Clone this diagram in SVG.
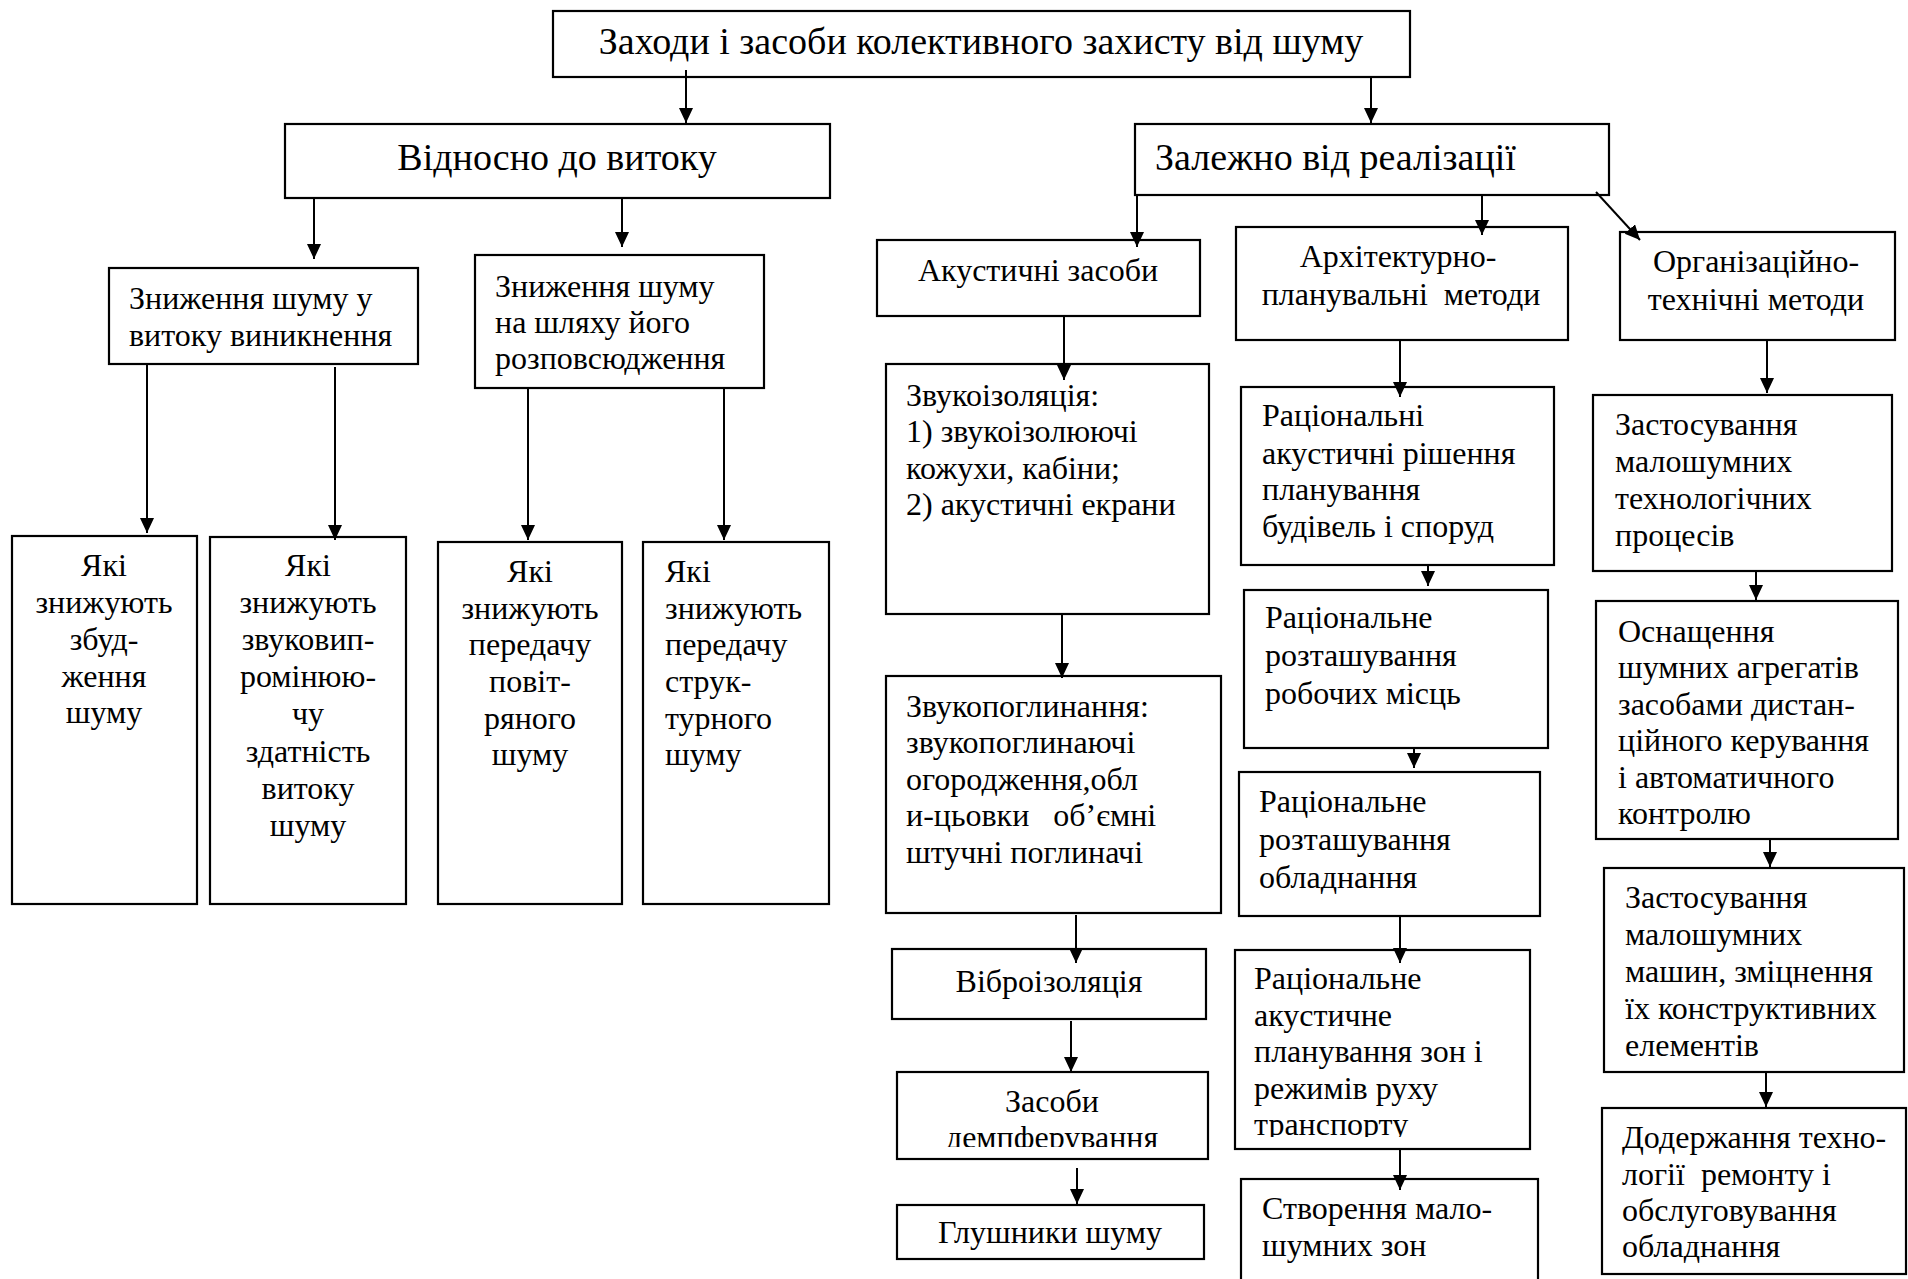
<svg xmlns="http://www.w3.org/2000/svg" width="1908" height="1279" viewBox="0 0 1908 1279">
<style>
.box{fill:#fff;stroke:#000;stroke-width:2.2}
.t{font-family:"Liberation Serif","Times New Roman",serif;font-size:32px;fill:#000;white-space:pre}
.big{font-size:38px}
.c{text-anchor:middle}
.conn line{stroke:#000;stroke-width:2;marker-end:url(#ah)}
</style>
<defs>
<marker id="ah" markerUnits="userSpaceOnUse" markerWidth="16" markerHeight="16" refX="15" refY="7" orient="auto">
<path d="M0,0 L15,7 L0,14 z" fill="#000"/>
</marker>
<clipPath id="clipDemp"><rect x="897" y="1072" width="311" height="75"/></clipPath>
<clipPath id="clipTrans"><rect x="1235" y="950" width="295" height="187"/></clipPath>
</defs>
<rect width="1908" height="1279" fill="#fff"/>

<g id="n-top"><rect class="box" x="553" y="11" width="857" height="66"/>
<text class="t big c" x="981" y="54">Заходи і засоби колективного захисту від шуму</text></g>

<g id="n-vidnosno"><rect class="box" x="285" y="124" width="545" height="74"/>
<text class="t big c" x="557" y="170">Відносно до витоку</text></g>

<g id="n-zalezhno"><rect class="box" x="1135" y="124" width="474" height="71"/>
<text class="t big" x="1155" y="170">Залежно від реалізації</text></g>

<g id="n-znyzh1"><rect class="box" x="109" y="268" width="309" height="96"/>
<text class="t"><tspan x="129" y="309">Зниження шуму у</tspan><tspan x="129" y="346">витоку виникнення</tspan></text></g>

<g id="n-znyzh2"><rect class="box" x="475" y="255" width="289" height="133"/>
<text class="t"><tspan x="495" y="297">Зниження шуму</tspan><tspan x="495" y="333">на шляху його</tspan><tspan x="495" y="369">розповсюдження</tspan></text></g>

<g id="n-a"><rect class="box" x="12" y="536" width="185" height="368"/>
<text class="t c"><tspan x="104" y="576">Які</tspan><tspan x="104" y="613">знижують</tspan><tspan x="104" y="650">збуд-</tspan><tspan x="104" y="687">ження</tspan><tspan x="104" y="723">шуму</tspan></text></g>

<g id="n-b"><rect class="box" x="210" y="537" width="196" height="367"/>
<text class="t c"><tspan x="308" y="576">Які</tspan><tspan x="308" y="613">знижують</tspan><tspan x="308" y="650">звуковип-</tspan><tspan x="308" y="687">ромінюю-</tspan><tspan x="308" y="724">чу</tspan><tspan x="308" y="762">здатність</tspan><tspan x="308" y="799">витоку</tspan><tspan x="308" y="836">шуму</tspan></text></g>

<g id="n-c"><rect class="box" x="438" y="542" width="184" height="362"/>
<text class="t c"><tspan x="530" y="582">Які</tspan><tspan x="530" y="619">знижують</tspan><tspan x="530" y="655">передачу</tspan><tspan x="530" y="692">повіт-</tspan><tspan x="530" y="729">ряного</tspan><tspan x="530" y="765">шуму</tspan></text></g>

<g id="n-d"><rect class="box" x="643" y="542" width="186" height="362"/>
<text class="t"><tspan x="665" y="582">Які</tspan><tspan x="665" y="619">знижують</tspan><tspan x="665" y="655">передачу</tspan><tspan x="665" y="692">струк-</tspan><tspan x="665" y="729">турного</tspan><tspan x="665" y="765">шуму</tspan></text></g>

<g id="n-akust"><rect class="box" x="877" y="240" width="323" height="76"/>
<text class="t c" x="1038" y="281">Акустичні засоби</text></g>

<g id="n-arkh"><rect class="box" x="1236" y="227" width="332" height="113"/>
<text class="t c"><tspan x="1398" y="267">Архітектурно-</tspan><tspan x="1401" y="305">планувальні  методи</tspan></text></g>

<g id="n-org"><rect class="box" x="1620" y="232" width="275" height="108"/>
<text class="t c"><tspan x="1756" y="272">Організаційно-</tspan><tspan x="1756" y="310">технічні методи</tspan></text></g>

<g id="n-zvukoizol"><rect class="box" x="886" y="364" width="323" height="250"/>
<text class="t"><tspan x="906" y="406">Звукоізоляція:</tspan><tspan x="906" y="442">1) звукоізолюючі</tspan><tspan x="906" y="479">кожухи, кабіни;</tspan><tspan x="906" y="515">2) акустичні екрани</tspan></text></g>

<g id="n-zvukopogl"><rect class="box" x="886" y="676" width="335" height="237"/>
<text class="t"><tspan x="906" y="717">Звукопоглинання:</tspan><tspan x="906" y="753">звукопоглинаючі</tspan><tspan x="906" y="790">огородження,обл</tspan><tspan x="906" y="826">и-цьовки   об’ємні</tspan><tspan x="906" y="863">штучні поглиначі</tspan></text></g>

<g id="n-vibro"><rect class="box" x="892" y="949" width="314" height="70"/>
<text class="t c" x="1049" y="992">Віброізоляція</text></g>

<g id="n-zasoby"><rect class="box" x="897" y="1072" width="311" height="87"/>
<text class="t c" x="1052" y="1112">Засоби</text>
<text class="t c" x="1052" y="1148" clip-path="url(#clipDemp)">демпферування</text></g>

<g id="n-glush"><rect class="box" x="897" y="1205" width="307" height="54"/>
<text class="t c" x="1050" y="1243">Глушники шуму</text></g>

<g id="n-rac1"><rect class="box" x="1241" y="387" width="313" height="178"/>
<text class="t"><tspan x="1262" y="426">Раціональні</tspan><tspan x="1262" y="464">акустичні рішення</tspan><tspan x="1262" y="500">планування</tspan><tspan x="1262" y="537">будівель і споруд</tspan></text></g>

<g id="n-rac2"><rect class="box" x="1244" y="590" width="304" height="158"/>
<text class="t"><tspan x="1265" y="628">Раціональне</tspan><tspan x="1265" y="666">розташування</tspan><tspan x="1265" y="704">робочих місць</tspan></text></g>

<g id="n-rac3"><rect class="box" x="1239" y="772" width="301" height="144"/>
<text class="t"><tspan x="1259" y="812">Раціональне</tspan><tspan x="1259" y="850">розташування</tspan><tspan x="1259" y="888">обладнання</tspan></text></g>

<g id="n-rac4"><rect class="box" x="1235" y="950" width="295" height="199"/>
<text class="t" clip-path="url(#clipTrans)"><tspan x="1254" y="989">Раціональне</tspan><tspan x="1254" y="1026">акустичне</tspan><tspan x="1254" y="1062">планування зон і</tspan><tspan x="1254" y="1099">режимів руху</tspan><tspan x="1254" y="1135">транспорту</tspan></text></g>

<g id="n-stvor"><rect class="box" x="1241" y="1179" width="297" height="120"/>
<text class="t"><tspan x="1262" y="1219">Створення мало-</tspan><tspan x="1262" y="1256">шумних зон</tspan></text></g>

<g id="n-zast1"><rect class="box" x="1593" y="395" width="299" height="176"/>
<text class="t"><tspan x="1615" y="435">Застосування</tspan><tspan x="1615" y="472">малошумних</tspan><tspan x="1615" y="509">технологічних</tspan><tspan x="1615" y="546">процесів</tspan></text></g>

<g id="n-osn"><rect class="box" x="1596" y="601" width="302" height="238"/>
<text class="t"><tspan x="1618" y="642">Оснащення</tspan><tspan x="1618" y="678">шумних агрегатів</tspan><tspan x="1618" y="715">засобами дистан-</tspan><tspan x="1618" y="751">ційного керування</tspan><tspan x="1618" y="788">і автоматичного</tspan><tspan x="1618" y="824">контролю</tspan></text></g>

<g id="n-zast2"><rect class="box" x="1604" y="868" width="300" height="204"/>
<text class="t"><tspan x="1625" y="908">Застосування</tspan><tspan x="1625" y="945">малошумних</tspan><tspan x="1625" y="982">машин, зміцнення</tspan><tspan x="1625" y="1019">їх конструктивних</tspan><tspan x="1625" y="1056">елементів</tspan></text></g>

<g id="n-dod"><rect class="box" x="1602" y="1108" width="304" height="166"/>
<text class="t"><tspan x="1622" y="1148">Додержання техно-</tspan><tspan x="1622" y="1185">логії  ремонту і</tspan><tspan x="1622" y="1221">обслуговування</tspan><tspan x="1622" y="1257">обладнання</tspan></text></g>

<g id="connectors" class="conn">
<line x1="686" y1="70" x2="686" y2="123"/>
<line x1="1371" y1="77" x2="1371" y2="123"/>
<line x1="314" y1="198" x2="314" y2="259"/>
<line x1="622" y1="198" x2="622" y2="247"/>
<line x1="147" y1="364" x2="147" y2="533"/>
<line x1="335" y1="367" x2="335" y2="540"/>
<line x1="528" y1="388" x2="528" y2="540"/>
<line x1="724" y1="388" x2="724" y2="540"/>
<line x1="1137" y1="195" x2="1137" y2="247"/>
<line x1="1482" y1="195" x2="1482" y2="235"/>
<line x1="1596" y1="192" x2="1640" y2="240"/>
<line x1="1064" y1="316" x2="1064" y2="380"/>
<line x1="1400" y1="340" x2="1400" y2="397"/>
<line x1="1767" y1="340" x2="1767" y2="393"/>
<line x1="1062" y1="614" x2="1062" y2="678"/>
<line x1="1428" y1="565" x2="1428" y2="586"/>
<line x1="1414" y1="748" x2="1414" y2="768"/>
<line x1="1756" y1="571" x2="1756" y2="600"/>
<line x1="1770" y1="839" x2="1770" y2="867"/>
<line x1="1076" y1="915" x2="1076" y2="963"/>
<line x1="1400" y1="915" x2="1400" y2="963"/>
<line x1="1071" y1="1021" x2="1071" y2="1072"/>
<line x1="1766" y1="1072" x2="1766" y2="1107"/>
<line x1="1400" y1="1149" x2="1400" y2="1190"/>
<line x1="1077" y1="1168" x2="1077" y2="1204"/>
</g>
</svg>
